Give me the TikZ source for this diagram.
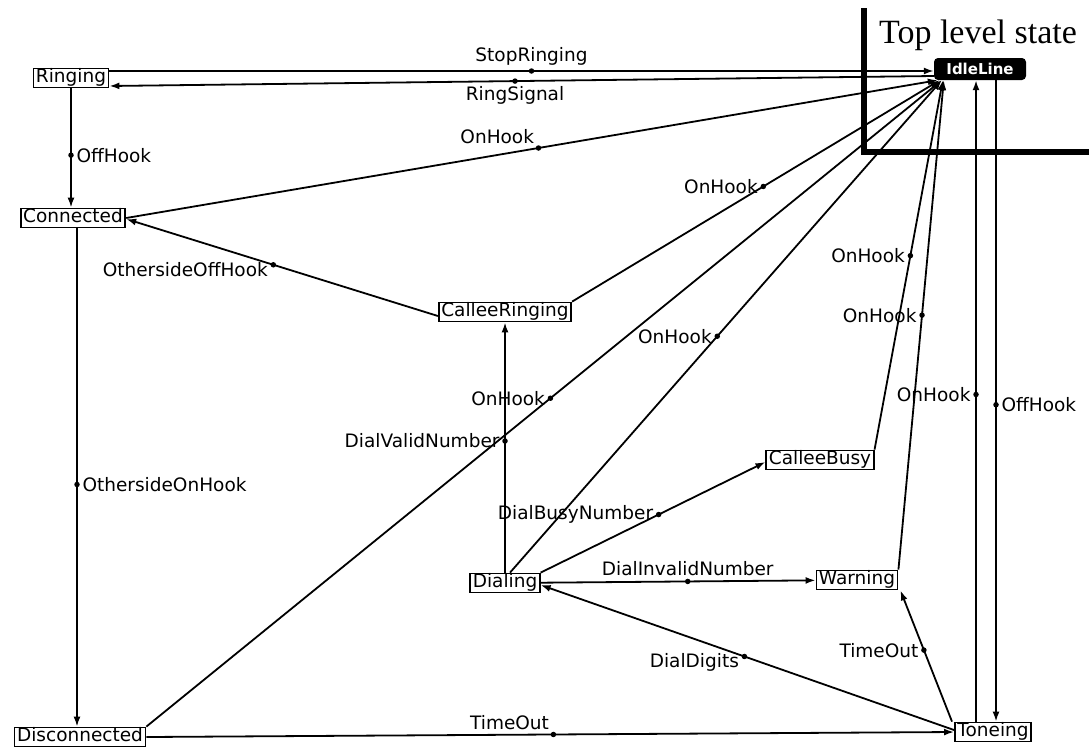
\documentclass[tikz,border=0pt]{standalone}
\usepackage{fontspec}
\usetikzlibrary{arrows.meta}
\newfontfamily\lblfont{DejaVu Sans}
\newfontfamily\ttlfont{Liberation Serif}
\begin{document}
\begin{tikzpicture}[x=1pt,y=-1pt,
  state/.style={draw, line width=1.8pt, fill=white, inner xsep=2.5pt, inner ysep=1pt,
    text height=13pt, text depth=4pt, font=\lblfont\fontsize{18.5}{20}\selectfont},
  idlebox/.style={fill=black, text=white, rounded corners=4pt, inner sep=1pt,
    minimum width=92pt, minimum height=22pt, font=\lblfont\bfseries\fontsize{15}{16}\selectfont},
  tr/.style={line width=1.8pt, -{Latex[length=10pt,width=7pt]}},
  dotm/.style={circle, fill=black, inner sep=0pt, minimum size=5.5pt},
  lbl/.style={font=\lblfont\fontsize{18.5}{20}\selectfont, inner sep=1pt},
]
\useasboundingbox (0,0) rectangle (1089,750);

% boundary of the top level state
\draw[line width=6pt] (864,8) -- (864,152) -- (1089,152);
\node[font=\ttlfont\fontsize{34}{36}\selectfont] (ttl) at (978,35) {Top level state};

% states
\node[idlebox] (idle) at (980,69) {IdleLine};
\node[state] (ring) at (71,78) {Ringing};
\node[state] (conn) at (73,218) {Connected};
\node[state] (disc) at (80,737) {Disconnected};
\node[state] (cr) at (505,312) {CalleeRinging};
\node[state] (cb) at (820,460) {CalleeBusy};
\node[state] (dial) at (505,583) {Dialing};
\node[state] (warn) at (857,580) {Warning};
\node[state] (tone) at (993,732) {Toneing};

\path ([xshift=-17pt]tone.north) coordinate (tOn);
\path ([xshift=3pt]tone.north) coordinate (tOff);

% transitions
\draw[tr] ([yshift=7pt]ring.east) -- node[dotm,pos=.512,label={[lbl]above:StopRinging}]{} ([yshift=-2pt]idle.west);
\draw[tr] ([yshift=-7pt]idle.west) -- node[dotm,pos=.508,label={[lbl]below:RingSignal}]{} ([yshift=-8pt]ring.east);
\draw[tr] (ring) -- node[dotm,pos=.56,label={[lbl]right:OffHook}]{} (ring |- conn.north);
\draw[tr] ([xshift=4pt]conn.south) -- node[dotm,pos=.514,label={[lbl]right:OthersideOnHook}]{} ([xshift=-3pt]disc.north);
\draw[tr] (conn.east) -- node[dotm,pos=.508,label={[lbl]above left:OnHook}]{} ([xshift=4pt]idle.south west);
\draw[tr] ([yshift=-4pt]cr.west) -- node[dotm,pos=.528,label={[lbl,yshift=-5pt]left:OthersideOffHook}]{} ([yshift=-1pt]conn.east);
\draw[tr] (cr.north east) -- node[dotm,pos=.52,label={[lbl]left:OnHook}]{} ([xshift=6pt]idle.south west);
\draw[tr] (dial) -- node[dotm,pos=.526,label={[lbl]left:DialValidNumber}]{} (cr);
\draw[tr] (disc.north east) -- node[dotm,pos=.508,label={[lbl]left:OnHook}]{} ([xshift=8pt]idle.south west);
\draw[tr] ([xshift=5pt]dial.north) -- node[dotm,pos=.48,label={[lbl]left:OnHook}]{} ([xshift=8pt]idle.south west);
\draw[tr] (dial.north east) -- node[dotm,pos=.525,label={[lbl]left:DialBusyNumber}]{} ([yshift=-2pt]cb.west);
\draw[tr] (cb.north east) -- node[dotm,pos=.525,label={[lbl]left:OnHook}]{} ([xshift=9pt]idle.south west);
\draw[tr] (dial) -- node[dotm,pos=.535,label={[lbl]above:DialInvalidNumber}]{} (warn);
\draw[tr] (warn.north east) -- node[dotm,pos=.52,label={[lbl]left:OnHook}]{} ([xshift=10pt]idle.south west);
\draw[tr] ([yshift=2pt]tone.west) -- node[dotm,pos=.507,label={[lbl,yshift=-6pt]left:DialDigits}]{} ([yshift=-2pt]dial.east);
\draw[tr] (disc.east) -- node[dotm,pos=.504,label={[lbl]above left:TimeOut}]{} (tone.west);
\draw[tr] ([xshift=-41pt]tone.north) -- node[dotm,pos=.545,label={[lbl]left:TimeOut}]{} ([xshift=2pt]warn.south east);
\draw[tr] (tOn) -- node[dotm,pos=.51,label={[lbl]left:OnHook}]{} (tOn |- idle.south);
\draw[tr] (tOff |- idle.south) -- node[dotm,pos=.506,label={[lbl]right:OffHook}]{} (tOff);
\end{tikzpicture}
\end{document}
